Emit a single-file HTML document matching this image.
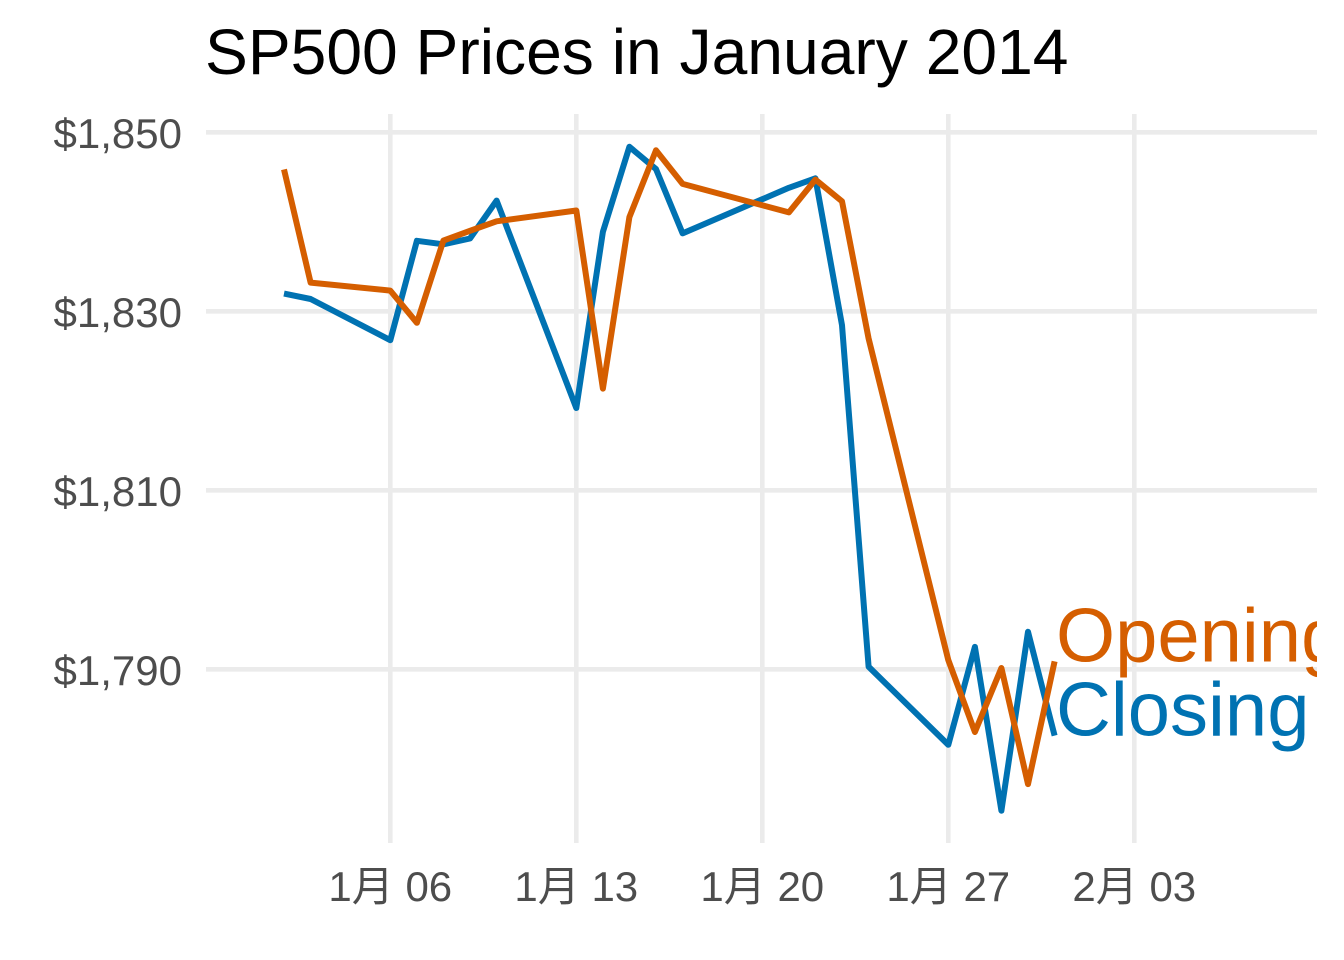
<!DOCTYPE html>
<html>
<head>
<meta charset="utf-8">
<style>
html,body{margin:0;padding:0;background:#fff;}
svg{display:block;}
</style>
</head>
<body>
<svg width="1344" height="960" viewBox="0 0 1344 960" xmlns="http://www.w3.org/2000/svg">
<defs>
<clipPath id="panel"><rect x="206" y="114" width="1111" height="729"/></clipPath>
</defs>
<rect width="1344" height="960" fill="#fff"/>
<g stroke="#EBEBEB" stroke-width="4.6">
<line x1="206" y1="132.3" x2="1317" y2="132.3"/>
<line x1="206" y1="311.3" x2="1317" y2="311.3"/>
<line x1="206" y1="490.3" x2="1317" y2="490.3"/>
<line x1="206" y1="669.3" x2="1317" y2="669.3"/>
<line x1="390.3" y1="114" x2="390.3" y2="843"/>
<line x1="576.3" y1="114" x2="576.3" y2="843"/>
<line x1="762.3" y1="114" x2="762.3" y2="843"/>
<line x1="948.3" y1="114" x2="948.3" y2="843"/>
<line x1="1134.3" y1="114" x2="1134.3" y2="843"/>
</g>
<g clip-path="url(#panel)" fill="none" stroke-width="6" stroke-linejoin="round" stroke-linecap="butt">
<polyline stroke="#0072B2" points="284.0,293.6 310.6,299.0 390.3,340.2 416.9,240.8 443.4,244.3 470.0,238.5 496.6,200.6 576.3,408.0 602.9,231.8 629.4,146.8 656.0,169.1 682.6,233.4 788.9,187.8 815.4,178.3 842.0,325.1 868.6,666.7 948.3,744.8 974.9,646.9 1001.4,810.7 1028.0,631.8 1054.6,735.6"/>
<polyline stroke="#D55E00" points="284.0,169.4 310.6,282.6 390.3,290.6 416.9,322.8 443.4,240.6 470.0,230.8 496.6,221.3 576.3,210.5 602.9,388.6 629.4,217.1 656.0,150.3 682.6,183.9 788.9,212.4 815.4,179.6 842.0,201.3 868.6,338.5 948.3,660.1 974.9,732.0 1001.4,668.0 1028.0,784.1 1054.6,661.4"/>
<text x="1056" y="661.4" font-family="Liberation Sans, Arial, sans-serif" font-size="76" fill="#D55E00">Opening</text>
<text x="1056" y="735.6" font-family="Liberation Sans, Arial, sans-serif" font-size="76" fill="#0072B2">Closing</text>
</g>
<text x="205" y="74" font-family="Liberation Sans, Arial, sans-serif" font-size="64.2" fill="#000">SP500 Prices in January 2014</text>
<g font-family="Liberation Sans, Arial, sans-serif" font-size="42" fill="#4D4D4D" text-anchor="end">
<text x="182" y="148">$1,850</text>
<text x="182" y="327">$1,830</text>
<text x="182" y="506">$1,810</text>
<text x="182" y="685">$1,790</text>
</g>
<g font-family="Liberation Sans, 'Noto Sans CJK SC', sans-serif" font-size="42" fill="#4D4D4D" text-anchor="middle">
<text x="390.3" y="901">1月 06</text>
<text x="576.3" y="901">1月 13</text>
<text x="762.3" y="901">1月 20</text>
<text x="948.3" y="901">1月 27</text>
<text x="1134.3" y="901">2月 03</text>
</g>
</svg>
</body>
</html>
